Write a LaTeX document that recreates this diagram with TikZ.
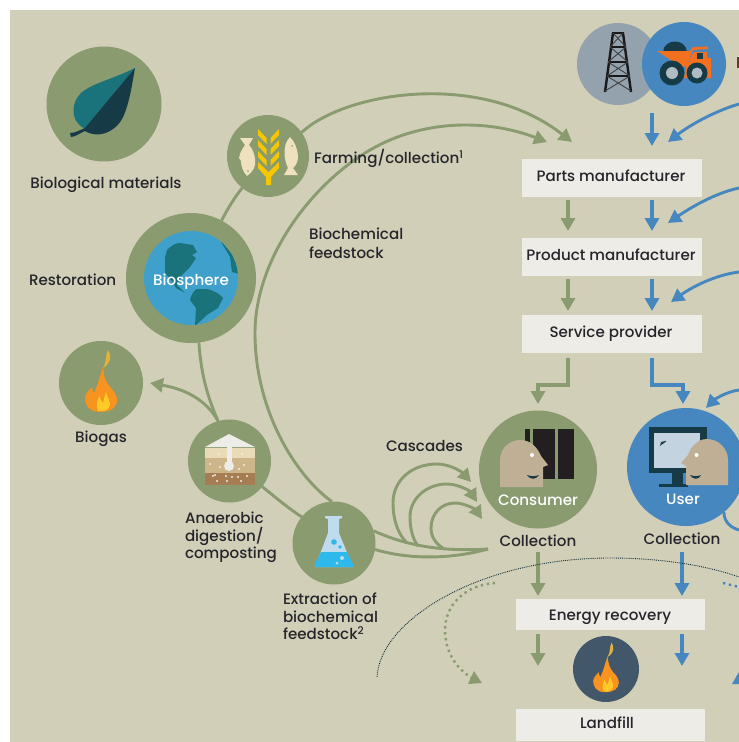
\documentclass[tikz,border=0pt]{standalone}
\usepackage{fontspec}
\setmainfont{Poppins Medium}
\usetikzlibrary{arrows.meta,calc}
\definecolor{bgc}{HTML}{D2CFB9}
\definecolor{grn}{HTML}{899B6F}
\definecolor{blu}{HTML}{4687BF}
\definecolor{boxc}{HTML}{EEECE6}
\definecolor{txt}{HTML}{25252B}
\definecolor{teal}{HTML}{1A737B}
\definecolor{navy}{HTML}{173A47}
\definecolor{sky}{HTML}{40A0CC}
\definecolor{yel}{HTML}{F6C700}
\definecolor{crm}{HTML}{EFE0BE}
\definecolor{org}{HTML}{F7931E}
\definecolor{ylw}{HTML}{FFC928}
\definecolor{wsp}{HTML}{E3B23C}
\definecolor{tan}{HTML}{BFAF95}
\definecolor{slate}{HTML}{42586A}
\definecolor{gry}{HTML}{93A2AD}
\definecolor{trk}{HTML}{F37021}
\definecolor{soila}{HTML}{EADBB8}
\definecolor{soilb}{HTML}{CDB68A}
\definecolor{soilc}{HTML}{A67C52}
\definecolor{glass}{HTML}{BFDCEF}
\definecolor{liq}{HTML}{2DB9EC}
\definecolor{ink}{HTML}{231F20}
\definecolor{scr}{HTML}{C3D3DF}
\definecolor{hub}{HTML}{B0BCC4}
\tikzset{
  disc/.style={circle,fill=#1,inner sep=0pt,outer sep=0pt},
  stage/.style={fill=boxc,inner sep=0pt,outer sep=0pt,minimum width=180pt,minimum height=38pt},
  lab/.style={text=txt,inner sep=0pt,outer sep=0pt,font=\fontsize{15.1}{17.5}\selectfont,align=left,anchor=base},
  wlab/.style={text=white,inner sep=0pt,outer sep=0pt,font=\fontsize{15.1}{17}\selectfont,anchor=base},
  gline/.style={draw=grn,line width=2.9pt},
  bline/.style={draw=blu,line width=2.9pt},
  garr/.style={gline,-{Triangle[length=13pt,width=14pt]}},
  barr/.style={bline,-{Triangle[length=13pt,width=14pt]}},
  gvert/.style={garr,line width=3.4pt},
  bvert/.style={barr,line width=3.4pt},
  flame/.pic={
    \fill[org] (-1,29) .. controls (-13,29) and (-16,21) .. (-16,15)
      .. controls (-16,11) and (-12,7) .. (-9,4) .. controls (-9,7) and (-8,9) .. (-7,10)
      .. controls (-3,2) and (-1,-8) .. (2,-16) .. controls (3,-5) and (5,-1) .. (9,4)
      .. controls (14,9) and (16,13) .. (16,17) .. controls (16,25) and (9,29) .. (-1,29) -- cycle;
    \fill[wsp] (7,-33) .. controls (11,-27) and (10,-20) .. (2,-15) .. controls (6,-22) and (4,-27) .. (7,-33) -- cycle;
    \fill[ylw] (-3,28) .. controls (-6,22) and (-3,17) .. (-2,13) .. controls (0,17) and (1,19) .. (2,20)
      .. controls (3,16) and (4,12) .. (5,9) .. controls (7,15) and (9,19) .. (9,22) .. controls (8,27) and (3,29) .. (-3,28) -- cycle;
  }
}
\begin{document}
\begin{tikzpicture}[x=1pt,y=-1pt]
\clip (0,0) rectangle (739,742);
\fill[white] (0,0) rectangle (739,742);
\fill[bgc] (10,10) rectangle (739,742);

% ---- discs
\node[disc=grn,minimum size=115pt] (leaf) at (104,104) {};
\node[disc=grn,minimum size=82pt] (farm) at (268,156) {};
\node[disc=grn,minimum size=130pt] (bios) at (191,278) {};
\node[disc=sky,minimum size=94pt] (globe) at (191,278) {};
\node[disc=grn,minimum size=84pt] (biog) at (101,383) {};
\node[disc=grn,minimum size=83pt] (anae) at (229.5,461) {};
\node[disc=grn,minimum size=83pt] (extr) at (334,543) {};
\node[disc=grn,minimum size=118pt] (cons) at (538,469.5) {};
\node[disc=blu,minimum size=118pt] (user) at (686,467) {};
\node[disc=gry,minimum size=82pt] (oil) at (618,64) {};
\node[disc=blu,minimum size=84pt] (truck) at (684,64) {};
\node[disc=slate,minimum size=66pt] (fire) at (606,669) {};

% ---- stages
\node[stage] (parts) at (612,178) {};
\node[stage] (prod) at (612,257) {};
\node[stage] (serv) at (612,334) {};
\node[stage,minimum width=189pt,minimum height=31pt] (ener) at (610.5,614.5) {};
\node[stage,minimum width=189pt,minimum height=32pt] (land) at (610.5,725) {};

% ---- coordinates of free ends
\coordinate (tipA) at (572,142);
\coordinate (tipB) at (547,142);
\coordinate (tipC) at (150,383);
\coordinate (eastA) at (739,104);
\coordinate (eastB) at (739,188);
\coordinate (eastC) at (739,272);
\coordinate (eastD) at (739,390);
\coordinate (eastE) at (739,530);
\coordinate (tipD) at (668,142);
\coordinate (tipE) at (668,223);
\coordinate (tipF) at (671,302);
\coordinate (tipG) at (706,408);
\coordinate (src) at (652,113);
\coordinate (jn) at (488,549);
\coordinate (casc1) at (471,482);
\coordinate (casc2) at (477,502);
\coordinate (casc3) at (482,519);
\coordinate (dotA) at (377,677);
\coordinate (dotB) at (739,577);
\coordinate (dotC) at (495,583);
\coordinate (tipH) at (482,683);
\coordinate (dotD) at (723,583);
\coordinate (dotE) at (739,587);

% ---- biological cycle
\draw[gline] (bios.62) .. controls (228,208) and (235,197) .. (farm.231);
\draw[garr] (farm.35) .. controls (345,92) and (480,70) .. (tipA);
\draw[garr] (extr.93) .. controls (295,475) and (255,410) .. (255,333)
   .. controls (255,260) and (310,185) .. (370,150)
   .. controls (425,118) and (490,120) .. (tipB);
\draw[gline] (bios.-83) .. controls (201,375) and (208,398) .. (anae.106);
\draw[garr] (anae.106) .. controls (208,403) and (190,390) .. (tipC);
\draw[gline] (anae.-38) .. controls (275,497) and (288,508) .. (extr.141);

% ---- cascades
\draw[gline] (extr.17) .. controls (405,545) and (440,552) .. (jn);
\draw[gline] (extr.-9) .. controls (410,560) and (452,559) .. (jn);
\draw[garr] (407,543) .. controls (397,533) and (393,518) .. (393,503)
   .. controls (393,480) and (412,464) .. (437,464)
   .. controls (450,464) and (462,472) .. (casc1);
\draw[garr] (418,546) .. controls (412,538) and (410,527) .. (410,517)
   .. controls (410,498) and (427,484) .. (447,484)
   .. controls (458,484) and (470,491) .. (casc2);
\draw[garr] (443,548) .. controls (436,544) and (431,537) .. (431,528)
   .. controls (431,513) and (442,503) .. (455,503)
   .. controls (465,503) and (476,510) .. (casc3);

% ---- technical flows
\draw[bvert] (src) -- (652,146);
\draw[barr] (eastA) .. controls (715,111) and (690,125) .. (tipD);
\draw[barr] (eastB) .. controls (715,193) and (690,208) .. (tipE);
\draw[barr] (eastC) .. controls (715,275) and (692,287) .. (tipF);
\draw[barr] (eastD) .. controls (725,392) and (714,400) .. (tipG);
\draw[bline] (user.-50) .. controls (724,523) and (732,528) .. (eastE);
\draw[gvert] ($(parts.south)+(-44,3)$) -- ($(prod.north)+(-44,-7)$);
\draw[bvert] ($(parts.south)+(40,3)$) -- ($(prod.north)+(40,-7)$);
\draw[gvert] ($(prod.south)+(-44,3)$) -- ($(serv.north)+(-44,-4)$);
\draw[bvert] ($(prod.south)+(40,3)$) -- ($(serv.north)+(40,-4)$);
\draw[gvert] ($(serv.south)+(-44,5)$) -- (568,385) -- (538,385) -- (538,404);
\draw[bvert] ($(serv.south)+(40,5)$) -- (652,385) -- (683,385) -- (683,404);
\draw[gvert] (538,552) -- ($(ener.north)+(-72.5,-3)$);
\draw[bvert] (682,552) -- ($(ener.north)+(71.5,-3)$);
\draw[gvert] ($(ener.south)+(-72.5,4)$) -- (538,666);
\draw[bvert] ($(ener.south)+(71.5,4)$) -- (682,666);

% ---- dotted flows
\draw[line width=0.9pt,densely dotted,draw=navy!80!black] (dotA) .. controls (380,620) and (480,558) .. (610,558)
   .. controls (660,558) and (705,565) .. (dotB);
\draw[draw=grn,line width=2.4pt,dash pattern=on 2.4pt off 3.6pt] (dotC) .. controls (465,585) and (445,605) .. (445,630)
   .. controls (445,650) and (455,668) .. (472,678);
\fill[grn] (tipH) -- (468,684) -- (474,671) -- cycle;
\draw[draw=blu,line width=2.4pt,dash pattern=on 2.4pt off 3.6pt] (dotD) -- (dotE);
\fill[blu] (732,684) -- (739,684) -- (739,672) -- cycle;

% ---- leaf
\fill[teal] (135,68) .. controls (115,78) and (95,83) .. (85,90) .. controls (72,98) and (71,115) .. (77,122) .. controls (80,126) and (83,128) .. (85,129) -- cycle;
\fill[navy] (135,68) .. controls (132,85) and (130,100) .. (124,115) .. controls (118,130) and (100,140) .. (85,131) .. controls (80,133) and (75,137) .. (71,137) -- (70,133) .. controls (75,133) and (80,130) .. (85,128) -- cycle;

% ---- wheat and fish
\foreach \yy in {0,11,22}{
  \fill[yel] (258,129+\yy) -- (266.5,138+\yy) -- (266.5,144+\yy) -- (258,135+\yy) -- cycle;
  \fill[yel] (279,129+\yy) -- (270.5,138+\yy) -- (270.5,144+\yy) -- (279,135+\yy) -- cycle;
}
\fill[yel] (258,162) -- (268.5,172) -- (279,162) -- (279,168) -- (271,177) -- (271,185) -- (266,185) -- (266,177) -- (258,168) -- cycle;
\fill[crm] (240,138) -- (253,138) -- (249,145) .. controls (254,150) and (256,160) .. (255,165) .. controls (254,170) and (250,174) .. (247,176) .. controls (243,172) and (241,166) .. (241,161) -- (239,158) .. controls (240,152) and (243,148) .. (245,145) -- cycle;
\fill[crm] (290,137) .. controls (295,142) and (298,150) .. (298,158) .. controls (297,165) and (294,167) .. (293,168) -- (298,175) -- (284,175) -- (288,168) .. controls (284,160) and (282,145) .. (290,137) -- cycle;
\fill[grn] (248,171) circle (0.8);
\fill[grn] (292,146) circle (0.8);

% ---- globe
\begin{scope}
\clip (191,278) circle (47);
\fill[teal] (165,257) -- (167,250) .. controls (172,245) and (176,243) .. (180,243) -- (193,245) -- (197,252) -- (192,255) -- (196,258) -- (190,267) -- (182,275) -- (177,285) -- (185,293) -- (176,288) -- (172,281) -- (165,273) -- cycle;
\fill[teal] (190,300) .. controls (191,295) and (194,290) .. (197,289) -- (207,289) .. controls (215,291) and (220,294) .. (223,298) -- (218,308) -- (207,315) -- (195,326) -- (196,308) -- cycle;
\fill[teal] (220,240) -- (233,255) -- (240,274) -- (232,272) -- (230,257) -- cycle;
\end{scope}

% ---- flames
\path (101,383) pic {flame};
\path (606,669) pic[scale=0.8] {flame};

% ---- compost
\fill[boxc] (205,447) -- (229,434) -- (255,447) -- cycle;
\fill[soila] (205,448) rectangle (255,458);
\fill[soilb] (205,458) rectangle (255,473);
\fill[soilc] (205,473) rectangle (255,485);
\fill[boxc] (226.5,447) rectangle (231.5,465);
\fill[boxc] (229,466) circle (5);
\foreach \a/\b in {219/454,242/454,210/464,220/467,239/469,244/465,215/475,226/476,232/477,238/477,217/481,227/481,241/481,247/476,213/476}{
  \fill[boxc] (\a,\b) circle (1.2);
}

% ---- flask
\fill[glass] (325,516) -- (342,516) -- (342,518) -- (339,519) -- (339,533) -- (353,567) -- (315,567) -- (328,533) -- (328,519) -- (325,518) -- cycle;
\fill[liq] (321,552) -- (347,552) -- (353,564) .. controls (354,566) and (353,567) .. (352,567) -- (316,567) .. controls (315,567) and (314,566) .. (315,564) -- cycle;
\fill[liq] (334,542) circle (2.8);
\fill[liq] (340,547) circle (1.8);
\fill[glass] (342,558) circle (2);
\fill[glass] (337,563) circle (1.5);

% ---- consumer
\fill[ink] (525,429) rectangle (530,479);
\fill[ink] (533,429) rectangle (555,479);
\fill[ink] (558,429) rectangle (574,479);
\fill[tan] (500,487) -- (500,460) .. controls (500,448) and (510,440) .. (520,440) .. controls (532,440) and (538,449) .. (541,456) -- (548,465) -- (543,467) -- (543,487) -- cycle;
\fill[white] (532,455) circle (2);
\fill[navy] (527,475) .. controls (530,480) and (536,480) .. (539,475) .. controls (535,476.5) and (531,476.5) .. (527,475) -- cycle;

% ---- user
\fill[navy] (649,427) rectangle (707,473);
\fill[scr] (654,433) rectangle (700,468);
\fill[navy] (672,473) rectangle (683,485);
\fill[navy] (659,484) rectangle (688,487);
\fill[tan] (728,485) -- (728,460) .. controls (728,448) and (718,439) .. (707,439) .. controls (696,439) and (690,449) .. (688,455) -- (681,463) -- (686,466) -- (686,485) -- cycle;
\fill[white] (696.5,455) circle (2);
\fill[navy] (690,475) .. controls (693,480) and (699,480) .. (701,475) .. controls (698,476.5) and (694,476.5) .. (690,475) -- cycle;
\fill[navy] (660,446) -- (661,442) -- (665,441) -- cycle;
\draw[navy,line width=0.8pt] (662,444) -- (666,441);

% ---- derrick
\begin{scope}[draw=black!90,line width=2.4pt]
\draw (612,33) -- (624,33);
\draw (613,33) -- (605,92);
\draw (623,33) -- (631,92);
\draw[line width=1.9pt] (610,47) -- (626,47) (608,62) -- (628,62) (607,76) -- (630,76);
\draw[line width=0.9pt,draw=black!75] (613,33) -- (626,47) (623,33) -- (610,47) (610,47) -- (628,62) (626,47) -- (608,62) (608,62) -- (630,76) (628,62) -- (607,76) (607,76) -- (631,91) (630,76) -- (605,91);
\end{scope}

% ---- truck
\fill[navy] (663,52) .. controls (664,38) and (686,38) .. (687,52) -- cycle;
\fill[trk] (657,51) -- (690,51) -- (693,47) -- (708,46.5) -- (708,49) -- (693,50) -- (686,67) -- (680,66) -- cycle;
\fill[trk] (686,67) -- (690,58) -- (694,52) -- (707,52) -- (707,58) -- (711,58) -- (711,78) -- (684,78) -- cycle;
\fill[navy] (697,53) rectangle (703,59);
\fill[navy] (672,73) circle (12.5);
\fill[navy] (697,73) circle (10.5);
\fill[hub] (672,73) circle (6);
\fill[hub] (697,73) circle (5.5);

% ---- truncated label at the edge
\fill[txt!70!trk] (737,57) rectangle (739,68);

% ---- texts
\node[lab] (tleaf) at (106,188.5) {Biological materials};
\node[lab,anchor=base west] (tfarm) at (314,163.5) {Farming/collection\textsuperscript{1}};
\node[lab,anchor=north west] (tfeed) at (309,228) {Biochemical\\[1.5pt]feedstock};
\node[lab,anchor=base west] (trest) at (29,285) {Restoration};
\node[wlab] (tbios) at (191,285) {Biosphere};
\node[lab] (tbiog) at (101,442.5) {Biogas};
\node[lab,anchor=north west] (tanae) at (185,512) {Anaerobic\\digestion/\\composting};
\node[lab,anchor=north west] (textr) at (283,593) {Extraction of\\biochemical\\feedstock\textsuperscript{2}};
\node[lab,anchor=base west] (tcasc) at (386,451.5) {Cascades};
\node[wlab] (tcons) at (538,505.5) {Consumer};
\node[wlab] (tuser) at (683,504) {User};
\node[lab] (tcol1) at (538,546.5) {Collection};
\node[lab] (tcol2) at (682,544.5) {Collection};
\node[lab] (tpart) at (611,181.5) {Parts manufacturer};
\node[lab] (tprod) at (611,260.5) {Product manufacturer};
\node[lab] (tserv) at (611,337.5) {Service provider};
\node[lab] (tener) at (610,620.5) {Energy recovery};
\node[lab] (tland) at (607,728.5) {Landfill};
\end{tikzpicture}
\end{document}
